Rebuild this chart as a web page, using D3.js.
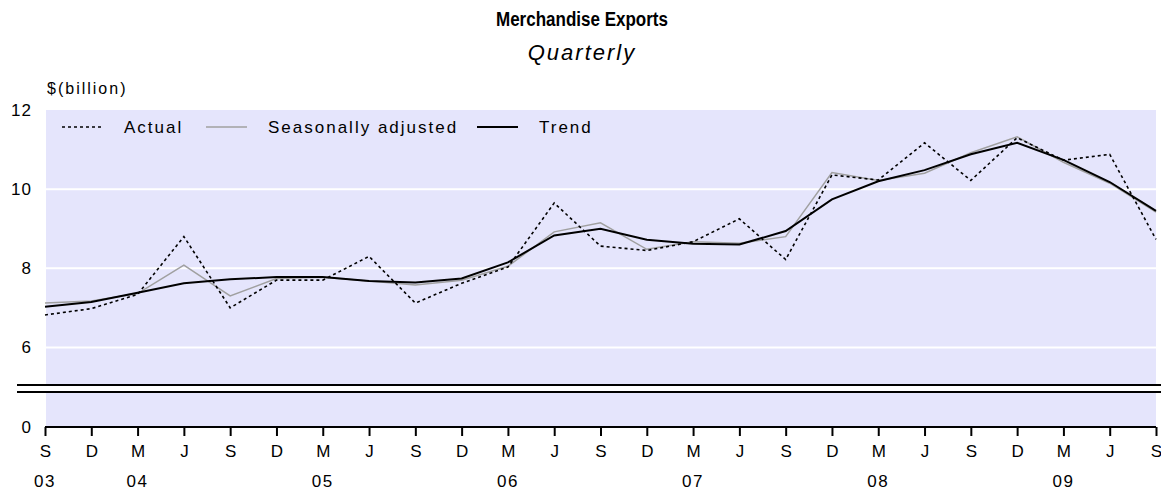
<!DOCTYPE html>
<html lang="en">
<head>
<meta charset="utf-8">
<title>Merchandise Exports</title>
<script src="https://cdn.jsdelivr.net/npm/d3@7/dist/d3.min.js"></script>
<style>
  body { margin: 0; background: #fff; }
  svg text { font-family: Arial, "Liberation Sans", sans-serif; fill: #000; }
</style>
</head>
<body>
<div id="chart"></div>
<script>
// quarter months, S03 .. S09
var quarters = ["S","D","M","J","S","D","M","J","S","D","M","J","S","D","M","J","S","D","M","J","S","D","M","J","S"];
// year labels sit under these quarter indexes
var yearIdx = [0, 2, 6, 10, 14, 18, 22];
var yearLabels = ["03","04","05","06","07","08","09"];
var yTicks = [0, 6, 8, 10, 12];

var actual   = [6.82, 6.98, 7.34, 8.80, 7.00, 7.70, 7.70, 8.30, 7.12, 7.62, 8.03, 9.65, 8.56, 8.45, 8.67, 9.25, 8.22, 10.36, 10.23, 11.17, 10.22, 11.30, 10.73, 10.88, 8.73];
var seasAdj  = [7.12, 7.17, 7.36, 8.08, 7.30, 7.74, 7.77, 7.68, 7.58, 7.70, 8.05, 8.92, 9.15, 8.48, 8.67, 8.63, 8.80, 10.42, 10.22, 10.40, 10.92, 11.32, 10.68, 10.15, 9.42];
var trend    = [7.03, 7.15, 7.38, 7.62, 7.72, 7.78, 7.78, 7.68, 7.64, 7.74, 8.15, 8.83, 9.00, 8.72, 8.62, 8.60, 8.94, 9.74, 10.20, 10.48, 10.88, 11.17, 10.74, 10.18, 9.45];

var W = 1161, H = 491;
var plotL = 45, plotR = 1156, plotT = 110, plotB = 427;

var svg = d3.select("#chart").append("svg")
    .attr("width", W)
    .attr("height", H);

var x = d3.scaleLinear().domain([0, quarters.length - 1]).range([plotL, plotR]);
// broken axis: 0 at the bottom, then a jump to ~5
var y = d3.scaleLinear().domain([0, 0.9, 5.05, 12]).range([plotB, 392, 385, plotT]);

// plot background
svg.append("rect")
    .attr("x", plotL + 1).attr("y", plotT)
    .attr("width", plotR - plotL - 1).attr("height", plotB - plotT)
    .style("fill", "#e5e5fc");

// white gridlines
svg.append("g").selectAll("line")
    .data([6, 8, 10])
    .enter().append("line")
    .attr("x1", plotL + 1).attr("x2", plotR)
    .attr("y1", function(d) { return y(d); })
    .attr("y2", function(d) { return y(d); })
    .style("stroke", "#fff").style("stroke-width", 2);

// axis break
var brk = svg.append("g");
brk.append("rect")
    .attr("x", 17).attr("y", y(5.05))
    .attr("width", W - 17).attr("height", y(0.9) - y(5.05))
    .style("fill", "#fff");
[5.05, 0.9].forEach(function(v) {
    brk.append("line")
        .attr("x1", 17).attr("x2", W)
        .attr("y1", y(v)).attr("y2", y(v))
        .style("stroke", "#000").style("stroke-width", 2);
});

// y labels
svg.append("g").selectAll("text")
    .data(yTicks)
    .enter().append("text")
    .attr("x", 32)
    .attr("y", function(d) { return y(d); })
    .attr("dy", "0.35em")
    .style("text-anchor", "end")
    .style("font-size", "17px")
    .style("letter-spacing", "1px")
    .text(function(d) { return d; });

svg.append("text")
    .attr("x", 47).attr("y", 94)
    .style("font-size", "16px")
    .style("letter-spacing", "2px")
    .text("$(billion)");

// x axis
var xAxis = d3.axisBottom(x)
    .tickValues(d3.range(quarters.length))
    .tickSize(9)
    .tickPadding(9)
    .tickFormat(function(i) { return quarters[i]; });

var gx = svg.append("g")
    .attr("transform", "translate(0," + plotB + ")")
    .call(xAxis);
gx.select(".domain").attr("d", "M" + plotL + ",0H" + plotR).style("stroke-width", 2);
gx.selectAll(".tick line").style("stroke-width", 2);
gx.selectAll(".tick text").style("font-size", "17px").style("font-family", "Arial, 'Liberation Sans', sans-serif");

svg.append("g").selectAll("text")
    .data(yearIdx)
    .enter().append("text")
    .attr("x", function(d) { return x(d); })
    .attr("y", 487)
    .style("text-anchor", "middle")
    .style("font-size", "17px")
    .style("letter-spacing", "1.5px")
    .text(function(d, i) { return yearLabels[i]; });

// lines
var line = d3.line()
    .x(function(d, i) { return x(i); })
    .y(function(d) { return y(d); });

svg.append("path").datum(seasAdj)
    .attr("d", line)
    .style("fill", "none").style("stroke", "#a0a0a0").style("stroke-width", 1.5);

svg.append("path").datum(trend)
    .attr("d", line)
    .style("fill", "none").style("stroke", "#000").style("stroke-width", 2);

svg.append("path").datum(actual)
    .attr("d", line)
    .style("fill", "none").style("stroke", "#000").style("stroke-width", 1.6)
    .style("stroke-dasharray", "3,3");

// legend
var legend = [
    {name: "Actual", x: 62, color: "#000", dash: "3,3", w: 1.6},
    {name: "Seasonally adjusted", x: 206, color: "#a0a0a0", dash: null, w: 1.5},
    {name: "Trend", x: 477, color: "#000", dash: null, w: 2}
];
var lg = svg.append("g").selectAll("g")
    .data(legend)
    .enter().append("g")
    .attr("transform", function(d) { return "translate(" + d.x + ",127)"; });
lg.append("line")
    .attr("x1", 0).attr("x2", 41)
    .style("stroke", function(d) { return d.color; })
    .style("stroke-width", function(d) { return d.w; })
    .style("stroke-dasharray", function(d) { return d.dash; });
lg.append("text")
    .attr("x", 62).attr("dy", "0.35em")
    .style("font-size", "17px")
    .style("letter-spacing", "2px")
    .text(function(d) { return d.name; });

// titles
svg.append("text")
    .attr("x", 582).attr("y", 26)
    .style("text-anchor", "middle")
    .style("font-size", "20px").style("font-weight", "bold")
    .attr("textLength", 172)
    .attr("lengthAdjust", "spacingAndGlyphs")
    .text("Merchandise Exports");
svg.append("text")
    .attr("x", 582).attr("y", 60)
    .style("text-anchor", "middle")
    .style("font-size", "22px").style("font-style", "italic")
    .style("letter-spacing", "2px")
    .text("Quarterly");
</script>
</body>
</html>
